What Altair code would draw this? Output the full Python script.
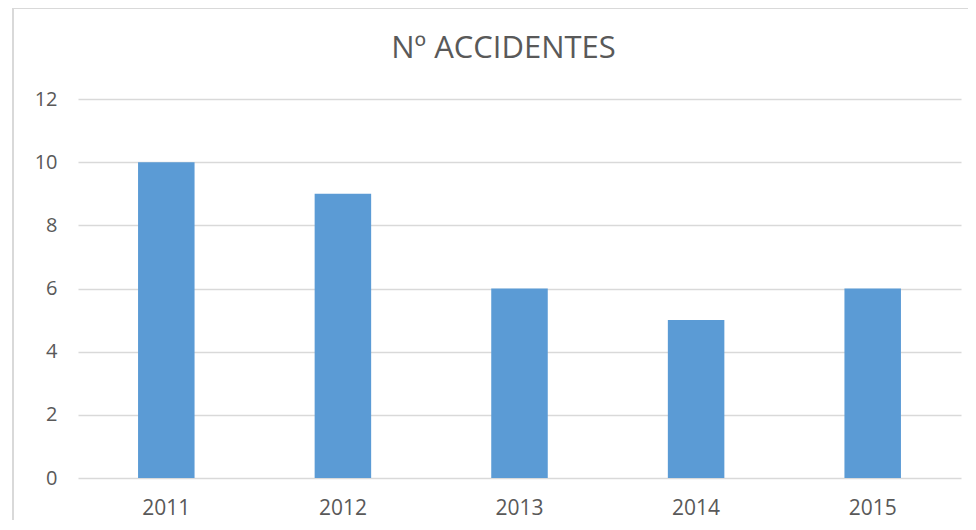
import altair as alt
import pandas as pd

years = ["2011", "2012", "2013", "2014", "2015"]
accidents = [10, 9, 6, 5, 6]

df = pd.DataFrame({"year": years, "accidents": accidents})

FONT = "Open Sans"
TXT = "#595959"
GRID = "#d9d9d9"

bars = alt.Chart(df).mark_bar(color="#5b9bd5").encode(
    x=alt.X(
        "year:N",
        sort=years,
        title=None,
        scale=alt.Scale(paddingInner=0.68, paddingOuter=0.34),
        axis=alt.Axis(domain=False, ticks=False, labelAngle=0, labelPadding=19,
                      labelFont=FONT, labelFontSize=21, labelColor=TXT, grid=False),
    ),
    y=alt.Y(
        "accidents:Q",
        title=None,
        scale=alt.Scale(domain=[0, 12], nice=False),
        axis=alt.Axis(values=[0, 2, 4, 6, 8, 10, 12], domain=False, ticks=False,
                      labelPadding=21, labelFont=FONT, labelFontSize=20,
                      labelColor=TXT, gridColor=GRID, gridWidth=1.5),
    ),
)

frame = alt.Data(values=[{"k": 1}])
top_line = alt.Chart(frame).mark_rule(color=GRID, strokeWidth=2).encode(
    x=alt.value(-65), x2=alt.value(1000), y=alt.value(-91)
)
left_line = alt.Chart(frame).mark_rule(color=GRID, strokeWidth=2).encode(
    x=alt.value(-65), y=alt.value(-91), y2=alt.value(600)
)

chart = alt.layer(bars, top_line, left_line).properties(
    width=883,
    height=379,
    padding={"left": 70, "top": 91, "right": 7, "bottom": 42},
    autosize=alt.AutoSizeParams(type="none"),
    title=alt.TitleParams(
        "Nº ACCIDENTES", font=FONT, fontSize=31, fontWeight="normal",
        color=TXT, anchor="middle", frame="group", dx=-16, offset=-58,
    ),
).configure_view(stroke=None)

chart.save("out.html", embed_options={"renderer": "svg", "actions": False})
